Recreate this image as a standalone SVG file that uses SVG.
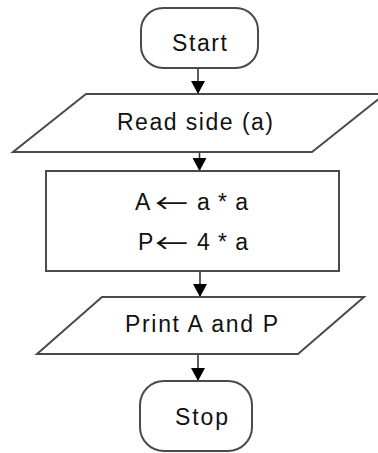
<svg xmlns="http://www.w3.org/2000/svg" width="378" height="453" viewBox="0 0 378 453">
<style>
.shape{fill:#fff;stroke:#4a4a4a;stroke-width:2}
.lbl{font-family:"Liberation Sans",Arial,sans-serif;font-size:23px;fill:#111}
.arr{font-family:"Noto Sans CJK JP","Noto Sans CJK SC",sans-serif;font-size:26px}
.conn{stroke:#333;stroke-width:1.6;fill:none}
</style>
<defs>
<marker id="ah" markerUnits="userSpaceOnUse" markerWidth="14" markerHeight="14" refX="13" refY="7" orient="auto">
<path d="M0,0 L13,7 L0,14 z" fill="#000"/>
</marker>
</defs>
<rect width="378" height="453" fill="#fff"/>
<g id="connectors">
<line class="conn" x1="198" y1="68" x2="198" y2="94" marker-end="url(#ah)"/>
<line class="conn" x1="199.5" y1="152" x2="199.5" y2="171" marker-end="url(#ah)"/>
<line class="conn" x1="200" y1="271" x2="200" y2="297" marker-end="url(#ah)"/>
<line class="conn" x1="198" y1="354" x2="198" y2="381" marker-end="url(#ah)"/>
</g>
<g id="start">
<rect class="shape" x="141" y="8" width="117" height="60" rx="22"/>
<text class="lbl" x="172" y="51" textLength="55" lengthAdjust="spacing">Start</text>
</g>
<g id="read">
<polygon class="shape" points="86,94 385,94 312,152 13,152"/>
<text class="lbl" x="117" y="130" textLength="156" lengthAdjust="spacing">Read side (a)</text>
</g>
<g id="process">
<rect class="shape" x="46" y="171" width="293" height="100"/>
<text class="lbl" y="210"><tspan x="135">A</tspan><tspan class="arr" x="155" dy="3" textLength="33" lengthAdjust="spacingAndGlyphs">←</tspan><tspan x="197" dy="-3" textLength="51" lengthAdjust="spacing">a * a</tspan></text>
<text class="lbl" y="250"><tspan x="138">P</tspan><tspan class="arr" x="155" dy="3" textLength="33" lengthAdjust="spacingAndGlyphs">←</tspan><tspan x="197" dy="-3" textLength="51" lengthAdjust="spacing">4 * a</tspan></text>
</g>
<g id="print">
<polygon class="shape" points="102,297 364,297 298,354 37,354"/>
<text class="lbl" x="125" y="332" textLength="153" lengthAdjust="spacing">Print A and P</text>
</g>
<g id="stop">
<rect class="shape" x="140" y="381" width="112" height="70" rx="24"/>
<text class="lbl" x="175" y="425" textLength="53" lengthAdjust="spacing">Stop</text>
</g>
</svg>
